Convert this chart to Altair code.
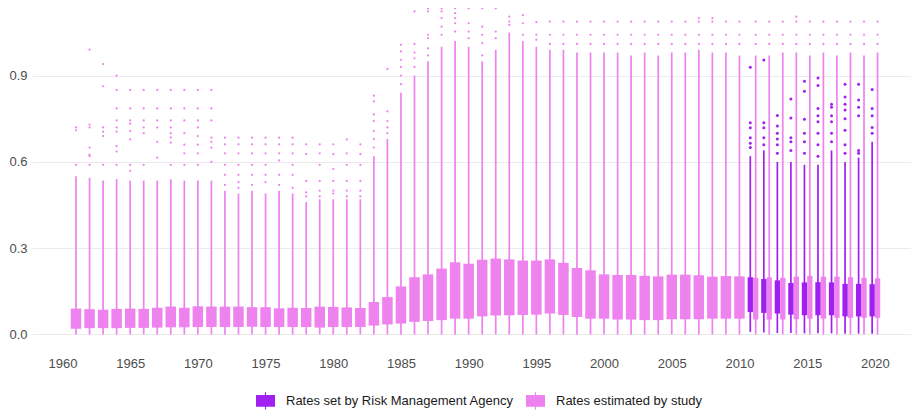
import altair as alt
import pandas as pd

RMA = "Rates set by Risk Management Agency"
STUDY = "Rates estimated by study"
PURPLE = "#A020F0"
VIOLET = "#EE82EE"
FONT = "Liberation Sans"

# ---------------- study boxes, 1961-2020 ----------------
study_years = list(range(1961, 2021))
study_q1 = [
    0.020, 0.022, 0.022, 0.022, 0.023, 0.023, 0.024, 0.025, 0.025, 0.026,
    0.026, 0.026, 0.026, 0.027, 0.026, 0.026, 0.026, 0.026, 0.024, 0.026,
    0.026, 0.026, 0.031, 0.035, 0.038, 0.044, 0.047, 0.050, 0.055, 0.055,
    0.063, 0.066, 0.067, 0.068, 0.069, 0.073, 0.068, 0.061, 0.055, 0.055,
    0.052, 0.052, 0.050, 0.050, 0.053, 0.053, 0.053, 0.055, 0.055, 0.055,
    0.052, 0.052, 0.052, 0.053, 0.055, 0.055, 0.058, 0.058, 0.058, 0.058,
]
study_q3 = [
    0.090, 0.088, 0.086, 0.089, 0.090, 0.089, 0.093, 0.097, 0.093, 0.098,
    0.097, 0.097, 0.097, 0.095, 0.095, 0.091, 0.093, 0.092, 0.097, 0.096,
    0.094, 0.092, 0.113, 0.130, 0.167, 0.199, 0.209, 0.229, 0.251, 0.246,
    0.260, 0.264, 0.261, 0.257, 0.257, 0.261, 0.249, 0.231, 0.223, 0.209,
    0.207, 0.207, 0.204, 0.202, 0.208, 0.208, 0.206, 0.201, 0.203, 0.202,
    0.197, 0.199, 0.197, 0.201, 0.204, 0.201, 0.201, 0.199, 0.197, 0.195,
]
study_whisker_low = [
    0.0, 0.0, 0.0, 0.0, 0.0, 0.0, 0.0, 0.0, 0.0, 0.0,
    0.0, 0.0, 0.0, 0.0, 0.0, 0.0, 0.0, 0.0, 0.0, 0.0,
    0.0, 0.0, 0.0, 0.0, 0.0, 0.0, 0.0, 0.0, 0.0, 0.0,
    0.0, 0.0, 0.0, 0.0, 0.0, 0.0, 0.0, 0.0, 0.0, 0.0,
    0.0, 0.0, 0.0, 0.0, 0.0, 0.0, 0.0, 0.0, 0.0, 0.0,
    0.0, 0.0, 0.0, 0.0, 0.0, 0.0, 0.0, 0.0, 0.0, 0.0,
]
# top of the dense run of outliers (reads as a continuous line)
study_dense_top = [
    0.55, 0.545, 0.535, 0.54, 0.535, 0.535, 0.535, 0.54, 0.535, 0.535,
    0.535, 0.50, 0.49, 0.50, 0.49, 0.50, 0.49, 0.46, 0.47, 0.47,
    0.47, 0.47, 0.62, 0.68, 0.84, 0.90, 0.95, 1.00, 1.02, 1.00,
    0.95, 0.99, 1.05, 1.02, 1.00, 0.99, 0.99, 0.98, 0.98, 0.98,
    0.98, 0.97, 0.98, 0.97, 0.98, 0.98, 0.99, 0.98, 0.98, 0.97,
    0.97, 0.97, 0.98, 0.98, 0.97, 0.98, 0.97, 0.98, 0.97, 0.98,
]
study_outliers = {
    1961: [0.59, 0.71, 0.72],
    1962: [0.99, 0.73, 0.72, 0.65, 0.625, 0.62, 0.59],
    1963: [0.94, 0.863, 0.72, 0.705, 0.69, 0.59],
    1964: [0.90, 0.85, 0.786, 0.744, 0.72, 0.705, 0.655, 0.636, 0.59],
    1965: [0.85, 0.786, 0.744, 0.733, 0.707, 0.678, 0.59, 0.569],
    1966: [0.85, 0.786, 0.744, 0.72, 0.70, 0.59],
    1967: [0.85, 0.786, 0.744, 0.72, 0.67, 0.615],
    1968: [0.85, 0.786, 0.744, 0.72, 0.70, 0.685, 0.667, 0.59],
    1969: [0.85, 0.786, 0.744, 0.70, 0.66, 0.63, 0.59],
    1970: [0.85, 0.786, 0.744, 0.72, 0.69, 0.66, 0.63, 0.59],
    1971: [0.85, 0.786, 0.744, 0.684, 0.67, 0.65, 0.60],
    1972: [0.684, 0.661, 0.63, 0.59, 0.555, 0.52],
    1973: [0.684, 0.661, 0.63, 0.59, 0.555, 0.53, 0.51],
    1974: [0.684, 0.661, 0.63, 0.59, 0.555, 0.52],
    1975: [0.684, 0.661, 0.63, 0.59, 0.555, 0.53],
    1976: [0.684, 0.661, 0.63, 0.605, 0.555, 0.52],
    1977: [0.684, 0.661, 0.63, 0.59, 0.555, 0.51],
    1978: [0.661, 0.627, 0.534, 0.494, 0.48],
    1979: [0.661, 0.63, 0.59, 0.534, 0.50, 0.48],
    1980: [0.661, 0.627, 0.575, 0.534, 0.50, 0.49],
    1981: [0.678, 0.63, 0.59, 0.534, 0.50, 0.48],
    1982: [0.661, 0.627, 0.59, 0.534, 0.50, 0.48],
    1983: [0.83, 0.81, 0.765, 0.742, 0.707, 0.68, 0.65],
    1984: [0.923, 0.776, 0.742, 0.72, 0.70],
    1985: [1.007, 0.984, 0.955, 0.93, 0.90, 0.87],
    1986: [1.123, 1.01, 0.98, 0.96, 0.93],
    1987: [1.134, 1.123, 1.042, 1.03, 0.995, 0.97],
    1988: [1.134, 1.123, 1.10, 1.07, 1.042],
    1989: [1.134, 1.117, 1.10, 1.082, 1.053],
    1990: [1.134, 1.082, 1.053, 1.03],
    1991: [1.134, 1.07, 1.042, 1.013, 0.97],
    1992: [1.134, 1.053, 1.03],
    1993: [1.105, 1.088, 1.076],
    1994: [1.11, 1.082, 1.042],
    1995: [1.086, 1.042, 1.025],
    1996: [1.088, 1.042, 1.01],
    1997: [1.088, 1.042, 1.01],
    1998: [1.088, 1.042, 1.01],
    1999: [1.088, 1.042, 1.01],
    2000: [1.088, 1.042, 1.01],
    2001: [1.088, 1.042, 1.01],
    2002: [1.088, 1.042, 1.01],
    2003: [1.088, 1.042, 1.01],
    2004: [1.088, 1.042, 1.01],
    2005: [1.088, 1.042, 1.01],
    2006: [1.088, 1.042, 1.01],
    2007: [1.10, 1.088, 1.042, 1.01],
    2008: [1.10, 1.088, 1.042, 1.01],
    2009: [1.088, 1.042, 1.01],
    2010: [1.088, 1.042, 1.01],
    2011: [1.088, 1.042, 1.01],
    2012: [1.088, 1.042, 1.01],
    2013: [1.088, 1.042, 1.01],
    2014: [1.105, 1.088, 1.042, 1.01],
    2015: [1.088, 1.042, 1.01],
    2016: [1.088, 1.042, 1.01],
    2017: [1.088, 1.042, 1.01],
    2018: [1.088, 1.042, 1.01],
    2019: [1.088, 1.042, 1.01],
    2020: [1.088, 1.042, 1.01],
}

# ---------------- Risk Management Agency boxes, 2011-2020 ----------------
rma_years = list(range(2011, 2021))
rma_q1 = [0.078, 0.075, 0.073, 0.069, 0.067, 0.067, 0.067, 0.063, 0.063, 0.063]
rma_q3 = [0.199, 0.193, 0.188, 0.179, 0.181, 0.182, 0.181, 0.176, 0.176, 0.175]
rma_whisker_low = [0.009, 0.007, 0.005, 0.005, 0.004, 0.004, 0.004, 0.003, 0.003, 0.003]
rma_dense_top = [0.62, 0.64, 0.60, 0.60, 0.59, 0.59, 0.64, 0.60, 0.615, 0.67]
rma_outliers = {
    2011: [0.929, 0.736, 0.719, 0.684, 0.665, 0.65],
    2012: [0.954, 0.736, 0.719, 0.684, 0.66],
    2013: [0.761, 0.725, 0.70, 0.68, 0.66, 0.63],
    2014: [0.819, 0.753, 0.684, 0.67, 0.64],
    2015: [0.88, 0.846, 0.748, 0.70, 0.67, 0.63],
    2016: [0.892, 0.866, 0.786, 0.76, 0.74, 0.70, 0.66, 0.62],
    2017: [0.80, 0.79, 0.76, 0.74, 0.70, 0.67],
    2018: [0.87, 0.826, 0.80, 0.78, 0.75, 0.71, 0.66, 0.63],
    2019: [0.87, 0.815, 0.79, 0.76, 0.64, 0.63],
    2020: [0.852, 0.786, 0.76, 0.72, 0.70],
}

x_ticks = list(range(1960, 2021, 5))
y_ticks = [0.0, 0.3, 0.6, 0.9]

# ---------------- tables ----------------
box_rows = []
for i, yr in enumerate(study_years):
    box_rows.append(dict(year=yr, series=STUDY, q1=study_q1[i], q3=study_q3[i],
                         low=study_whisker_low[i], top=study_dense_top[i]))
for i, yr in enumerate(rma_years):
    box_rows.append(dict(year=yr, series=RMA, q1=rma_q1[i], q3=rma_q3[i],
                         low=rma_whisker_low[i], top=rma_dense_top[i]))
boxes = pd.DataFrame(box_rows)

out_rows = []
for yr, vals in study_outliers.items():
    for v in vals:
        out_rows.append(dict(year=yr, series=STUDY, value=v))
for yr, vals in rma_outliers.items():
    for v in vals:
        out_rows.append(dict(year=yr, series=RMA, value=v))
outliers = pd.DataFrame(out_rows)

xpos_expr = ("datum.year + (datum.series == '%s' ? -0.2 : (datum.year >= %d ? 0.2 : 0))"
             % (RMA, rma_years[0]))

x_enc = alt.X("xpos:Q",
              scale=alt.Scale(domain=[1957.75, 2022.67], nice=False, zero=False, padding=0),
              axis=alt.Axis(values=x_ticks, format="d", grid=False, ticks=False,
                            domain=False, labelPadding=11, title=None,
                            labelFontSize=13, labelColor="#4D4D4D", labelFont=FONT))
y_scale = alt.Scale(domain=[-0.04, 1.135], nice=False, zero=False, padding=0)
y_axis = alt.Axis(values=y_ticks, format=".1f", grid=True, gridColor="#EBEBEB",
                  gridWidth=1.1, ticks=False, domain=False, labelPadding=5,
                  title=None, labelFontSize=13, labelColor="#4D4D4D", labelFont=FONT)

color_scale = alt.Scale(domain=[RMA, STUDY], range=[PURPLE, VIOLET])
legend = alt.Legend(
    title=None, orient="none", legendX=224, legendY=383, direction="horizontal",
    symbolType="M-1,-0.62H1V0.62H-1Z M-0.06,-0.92H0.06V0.92H-0.06Z",
    symbolSize=361, symbolStrokeWidth=0, symbolOpacity=1,
    labelFontSize=13, labelFont=FONT, labelColor="#1A1A1A", labelOffset=11,
    labelLimit=0, columnPadding=12, padding=0,
)
color_enc = alt.Color("series:N", scale=color_scale, legend=legend)

base_boxes = alt.Chart(boxes).transform_calculate(xpos=xpos_expr)

single_boxes = base_boxes.transform_filter(
    "datum.year < %d" % rma_years[0]
).mark_bar(size=10.5).encode(
    x=x_enc,
    y=alt.Y("q1:Q", scale=y_scale, axis=y_axis),
    y2="q3:Q",
    color=color_enc,
)

paired_boxes = base_boxes.transform_filter(
    "datum.year >= %d" % rma_years[0]
).mark_bar(size=5.3).encode(
    x=x_enc,
    y=alt.Y("q1:Q", scale=y_scale, axis=y_axis),
    y2="q3:Q",
    color=color_enc,
)

whiskers = base_boxes.mark_rule(strokeWidth=1.7).encode(
    x=x_enc,
    y=alt.Y("low:Q", scale=y_scale, axis=y_axis),
    y2="top:Q",
    color=color_enc,
)

base_points = alt.Chart(outliers).transform_calculate(xpos=xpos_expr)
study_points = base_points.transform_filter(
    "datum.series == '%s'" % STUDY
).mark_circle(size=5, opacity=1).encode(
    x=x_enc,
    y=alt.Y("value:Q", scale=y_scale, axis=y_axis),
    color=color_enc,
)
rma_points = base_points.transform_filter(
    "datum.series == '%s'" % RMA
).mark_circle(size=9, opacity=1).encode(
    x=x_enc,
    y=alt.Y("value:Q", scale=y_scale, axis=y_axis),
    color=color_enc,
)

chart = alt.layer(single_boxes, paired_boxes, whiskers, study_points, rma_points).properties(
    width=879,
    height=338,
    padding={"left": 24, "top": 0, "right": 0, "bottom": 64},
    autosize=alt.AutoSizeParams(type="none"),
).configure_view(stroke=None)

chart.save("out.html", embed_options={"renderer": "svg", "actions": False})
